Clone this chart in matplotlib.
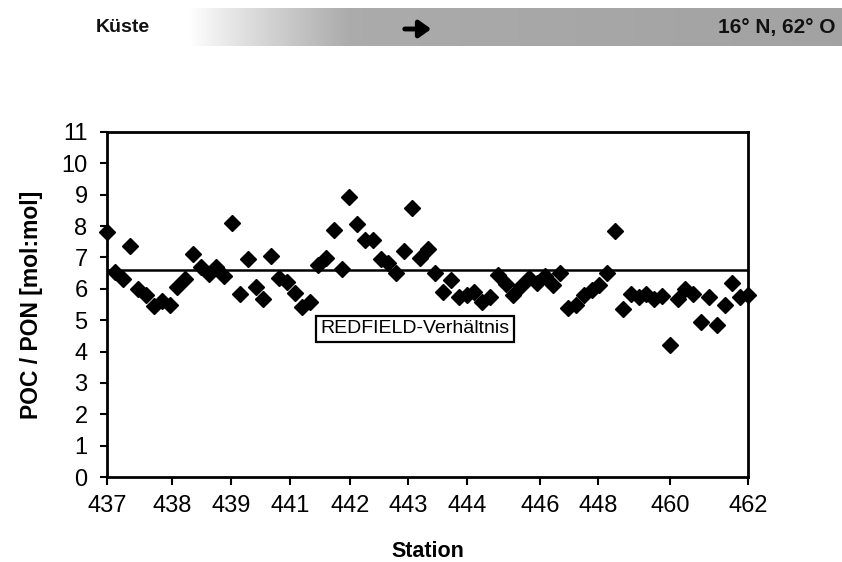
import numpy as np
import matplotlib
matplotlib.use('Agg')
import matplotlib.pyplot as plt
from matplotlib.colors import LinearSegmentedColormap

# ---- data ----
stations = ['437', '438', '439', '441', '442', '443', '444', '446', '448', '460', '462']
station_ticks = [0, 8.3, 15.9, 23.4, 31.1, 38.5, 46.1, 55.4, 62.8, 72.0, 82]
poc_pon = [7.8, 6.55, 6.3, 7.35, 6.0, 5.8, 5.45, 5.6, 5.5, 6.05,
           6.3, 7.1, 6.7, 6.47, 6.69, 6.4, 8.1, 5.82, 6.94, 6.07,
           5.68, 7.06, 6.35, 6.22, 5.86, 5.41, 5.57, 6.75, 6.97, 7.87,
           6.62, 8.92, 8.08, 7.57, 7.56, 6.95, 6.82, 6.5, 7.2, 8.58,
           6.97, 7.26, 6.49, 5.91, 6.29, 5.74, 5.8, 5.89, 5.57, 5.73,
           6.43, 6.14, 5.79, 6.1, 6.36, 6.2, 6.42, 6.13, 6.51, 5.38,
           5.47, 5.79, 5.95, 6.11, 6.49, 7.83, 5.36, 5.84, 5.74, 5.83,
           5.67, 5.77, 4.2, 5.66, 5.98, 5.82, 4.95, 5.75, 4.85, 5.49,
           6.19, 5.74, 5.8]
redfield = 6.6
redfield_label = 'REDFIELD-Verhältnis'
x_label = 'Station'
y_label = 'POC / PON [mol:mol]'
header_left = 'Küste'
header_right = '16° N, 62° O'

sans = ['Liberation Sans', 'DejaVu Sans']

W, H = 842, 562
fig = plt.figure(figsize=(W / 100, H / 100), dpi=100)
fig.patch.set_facecolor('white')

# ---- header (pixel coordinate overlay) ----
hdr = fig.add_axes([0, 0, 1, 1], zorder=0)
hdr.axis('off')
xs = np.linspace(0, W, 600)
grad = np.clip((xs - 190) / 160.0, 0, 1) ** 0.9
grad = grad * 0.9 + np.clip((xs - 350) / 500.0, 0, 1) * 0.1
cmap = LinearSegmentedColormap.from_list('g', ['#ffffff', '#a2a2a2'])
hdr.imshow(grad[np.newaxis, :], extent=[0, W, 46, 8], aspect='auto', cmap=cmap,
           vmin=0, vmax=1, interpolation='bilinear')
hdr.set_xlim(0, W)
hdr.set_ylim(H, 0)
hdr.text(96, 28, header_left, ha='left', va='center', fontsize=14,
         fontweight='bold', family=sans, color='#111111')
hdr.text(835, 28, header_right, ha='right', va='center', fontsize=15,
         fontweight='bold', family=sans, color='#111111')
hdr.annotate('', xy=(434, 29), xytext=(402, 29),
             arrowprops=dict(arrowstyle='-|>,head_length=0.7,head_width=0.5',
                             color='black', lw=3.5))

# ---- main axes ----
ax = fig.add_axes([107 / W, 1 - 477 / H, 641 / W, 345 / H], zorder=2)
ax.patch.set_alpha(0)
x = np.arange(len(poc_pon))
ax.plot(x, poc_pon, linestyle='none', marker='D', ms=8.2, color='black',
        mec='black', clip_on=False, zorder=3)
ax.axhline(redfield, color='black', lw=1.8, zorder=2)
ax.set_xlim(0, len(poc_pon) - 1)
ax.set_ylim(0, 11)

ax.set_yticks(range(0, 12))
ax.set_yticklabels([str(v) for v in range(0, 12)], family=sans, fontsize=17)
ax.set_xticks(station_ticks)
ax.set_xticklabels(stations, family=sans, fontsize=17)
ax.tick_params(axis='y', direction='out', length=5, width=1.5, pad=9)
ax.tick_params(axis='x', direction='out', length=6, width=1.5, pad=7)
for s in ax.spines.values():
    s.set_linewidth(2.0)

ax.set_xlabel(x_label, family=sans, fontsize=15.5, fontweight='bold', labelpad=17)
ax.set_ylabel(y_label, family=sans, fontsize=16.5, fontweight='bold', labelpad=13)

ax.text(39.4, 4.72, redfield_label, ha='center', va='center', family=sans,
        fontsize=14, zorder=4,
        bbox=dict(boxstyle='square,pad=0.25', fc='white', ec='black', lw=1.6))

fig.savefig('out.png', dpi=100, facecolor='white')
